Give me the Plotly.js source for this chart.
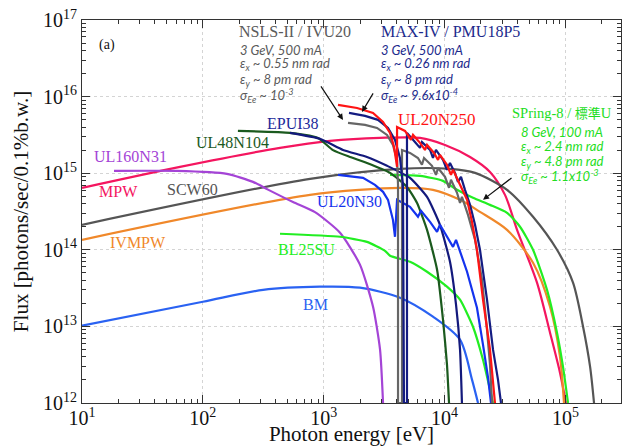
<!DOCTYPE html>
<html>
<head>
<meta charset="utf-8">
<script src="https://cdn.plot.ly/plotly-3.0.1.min.js"></script>
<style>html,body{margin:0;padding:0;background:#fff;}#chart{width:626px;height:446px;}</style>
</head>
<body>
<div id="chart"></div>
<script>
// ---- data (photon energy [eV], flux [photons/sec/0.1%b.w.]) ----
const mpwE = [10, 64.7, 435, 1127, 2924, 6266, 10090, 16250, 23770, 31620, 39800, 58200, 74600, 90200, 101100];
const mpwF = [6.44e14, 1.21e15, 2.14e15, 2.64e15, 2.89e15, 2.89e15, 2.34e15, 1.63e15, 1.04e15, 5.21e14, 1.82e14, 3.72e13, 8.28e12, 2.49e12, 1e12];

const scwE = [10, 771, 4276, 11090, 17870, 32890, 53950, 85200, 115600, 140000, 160000, 172500];
const scwF = [2.12e14, 8.44e14, 1.14e15, 1.14e15, 1.01e15, 6.07e14, 2.70e14, 1.0e14, 3.72e13, 9.9e12, 2.98e12, 1e12];

const ivmpwE = [10, 771, 4276, 8017, 13430, 19640, 32890, 53950, 74600, 90200, 97300];
const ivmpwF = [1.35e14, 5.21e14, 6.44e14, 6.07e14, 4.49e14, 3.13e14, 1.82e14, 6.78e13, 1.81e13, 4.03e12, 1e12];

const bmE = [10, 100, 315, 931, 1995, 4276, 8017, 13430, 16870, 18920];
const bmF = [1.02e13, 2.10e13, 3.0e13, 3.30e13, 3.2e13, 2.37e13, 1.34e13, 6.7e12, 2.02e12, 1e12];

const ul160E = [18.4, 61, 158, 260, 346, 557, 847, 1365, 1995, 2560, 2924, 3097];
const ul160F = [1.07e15, 1.07e15, 9.8e14, 7.7e14, 6.1e14, 4.2e14, 3.1e14, 1.67e14, 6.4e13, 1.8e13, 5.0e12, 1e12];

const ul48E = [195, 526, 897, 1194, 1652, 2280, 3540, 4890, 5910, 7160, 8670, 9710, 10470, 10890];
const ul48F = [3.56e15, 3.36e15, 2.89e15, 2.0e15, 1.63e15, 1.36e15, 1.01e15, 6.6e14, 4.1e14, 1.82e14, 5.5e13, 1.22e13, 3.2e12, 1e12];

const epuiE = [526, 931, 1445, 2280, 3342, 5176, 7161, 9162, 11090, 12440, 13430, 13930];
const epuiF = [3.36e15, 2.81e15, 2.01e15, 1.63e15, 1.25e15, 8.7e14, 4.91e14, 2.12e14, 6.98e13, 1.92e13, 4.97e12, 1e12];

const ul20n30E = [1313, 2115, 2655, 3097, 3404, 3741, 3890, 4045, 5176, 6026, 6383, 7586, 8665, 9162, 11750, 12440, 15350, 18540, 20800, 22900, 24220];
const ul20n30F = [9.5e14, 8.7e14, 7.05e14, 5.71e14, 4.49e14, 2.46e14, 1.48e14, 4.49e14, 3.64e14, 2.70e14, 3.23e14, 2.32e14, 1.72e14, 2.12e14, 1.09e14, 1.35e14, 5.17e13, 1.75e13, 5.77e12, 2.14e12, 1e12];

const bl25E = [435, 1365, 2280, 3215, 3540, 5176, 7161, 10470, 13430, 17190, 20800, 23770, 25180];
const bl25F = [1.62e14, 1.48e14, 1.27e14, 9.71e13, 8.36e13, 6.98e13, 5.17e13, 3.30e13, 2.23e13, 9.9e12, 3.67e12, 1.49e12, 1e12];

const sp8E = [3540, 6266, 9705, 12680, 17190, 23770, 32890, 42100, 53950, 70450, 85200, 95500, 105100];
const sp8F = [9.5e14, 9.23e14, 7.94e14, 6.07e14, 4.77e14, 3.86e14, 3.04e14, 2.0e14, 1.0e14, 3.0e13, 8.28e12, 2.98e12, 1e12];

const nslsE = [1589, 2198, 2761, 3342, 3741, 4045, 4121, 4121, 4446, 4446, 5176, 6026, 6501, 6761, 7870, 8492, 8831, 10090, 10890, 11300, 12680, 13430, 13930, 15630, 17870, 20420, 22450, 23770, 24720];
const nslsF = [4.54e15, 4.27e15, 3.90e15, 3.16e15, 2.34e15, 1.49e15, 7.05e14, 1e12, 1e12, 2.01e15, 1.84e15, 1.58e15, 1.29e15, 1.58e15, 1.25e15, 9.5e14, 1.17e15, 8.96e14, 6.44e14, 8.2e14, 5.55e14, 4.10e14, 4.91e14, 2.86e14, 1.35e14, 4.06e13, 9.05e12, 3.16e12, 1e12];

const maxivE = [1619, 2198, 2813, 3404, 3890, 4276, 4530, 4615, 4887, 4887, 5689, 6266, 6501, 7586, 8017, 8492, 9705, 10470, 11090, 12190, 12910, 13680, 14760, 16250, 17870, 19640, 22450, 25180, 27680, 29310];
const maxivF = [6.12e15, 5.60e15, 4.97e15, 3.90e15, 2.72e15, 1.58e15, 7.05e14, 1e12, 1e12, 3.36e15, 2.56e15, 2.14e15, 2.56e15, 2.01e15, 1.58e15, 2.01e15, 1.49e15, 1.11e15, 1.36e15, 1.01e15, 7.7e14, 8.96e14, 6.07e14, 3.86e14, 2.12e14, 1.0e14, 2.23e13, 4.97e12, 2.02e12, 1e12];

const ul20n250E = [1313, 1888, 2559, 3097, 3540, 3819, 4045, 4045, 4706, 5273, 5483, 6266, 6887, 7161, 8185, 8831, 9162, 10470, 11300, 11750, 13430, 15350, 16870, 18540, 20800, 23770, 26140];
const ul20n250F = [7.78e15, 7.11e15, 6.12e15, 4.68e15, 3.36e15, 2.21e15, 1.21e15, 4.02e15, 3.56e15, 2.72e15, 3.16e15, 2.49e15, 2.01e15, 2.34e15, 1.84e15, 1.49e15, 1.73e15, 1.29e15, 9.5e14, 1.11e15, 7.05e14, 4.49e14, 2.32e14, 1.0e14, 2.23e13, 4.97e12, 1e12];

// tick labels
const xTickVals = [10, 100, 1000, 10000, 100000];
const xTickText = ['10<sup>1</sup>', '10<sup>2</sup>', '10<sup>3</sup>', '10<sup>4</sup>', '10<sup>5</sup>'];
const yTickVals = [1e12, 1e13, 1e14, 1e15, 1e16, 1e17];
const yTickText = ['10<sup>12</sup>', '10<sup>13</sup>', '10<sup>14</sup>', '10<sup>15</sup>', '10<sup>16</sup>', '10<sup>17</sup>'];

const xTitle = 'Photon energy [eV]';
const yTitle = 'Flux [photons/sec/0.1%b.w.]';

// ---- traces ----
function tr(x, y, color, shape, sm) {
  const line = {color: color, width: 2.2, shape: shape || 'linear'};
  if (shape === 'spline') line.smoothing = sm || 1;
  return {x: x, y: y, type: 'scatter', mode: 'lines', line: line, hoverinfo: 'skip', showlegend: false};
}
const data = [
  tr(mpwE, mpwF, '#f4155f', 'spline', 0.8),
  tr(scwE, scwF, '#555555', 'spline', 0.8),
  tr(ivmpwE, ivmpwF, '#f0882a', 'spline', 0.8),
  tr(bmE, bmF, '#2a62f2', 'spline', 0.8),
  tr(ul160E, ul160F, '#a444d6', 'spline', 0.6),
  tr(bl25E, bl25F, '#22ee22', 'spline', 0.5),
  tr(sp8E, sp8F, '#22ee22', 'spline', 0.6),
  tr(ul48E, ul48F, '#1b5a1e', 'spline', 0.5),
  tr(epuiE, epuiF, '#13197c', 'spline', 0.5),
  tr(ul20n30E, ul20n30F, '#1433ee', 'linear'),
  tr(nslsE, nslsF, '#666666', 'linear'),
  tr(maxivE, maxivF, '#141c82', 'linear'),
  tr(ul20n250E, ul20n250F, '#ff1414', 'linear')
];

// ---- annotations ----
const serif = 'Liberation Serif, Times New Roman, serif';
const ital = 'Lato, Open Sans, sans-serif';
function lab(text, x, y, color, size, anchor, fam) {
  return {text: text, x: x, y: y, xref: 'paper', yref: 'paper', showarrow: false,
    xanchor: anchor || 'center', yanchor: 'middle',
    font: {family: fam || serif, size: size || 16, color: color}};
}
const nslsC = '#5a5a5a', maxC = '#1c2a8c', sp8C = '#22dd22';
const lineY = [0.9217, 0.8844, 0.8426, 0.8035];
const sp8Y = [0.7078, 0.6687, 0.6295, 0.5904];
const nslsLines = ['3 GeV, 500 mA', 'ε<sub>x</sub> ~ 0.55 nm rad', 'ε<sub>y</sub> ~ 8 pm rad', 'σ<sub>Ee</sub> ~ 10<sup>-3</sup>'];
const maxLines = ['3 GeV, 500 mA', 'ε<sub>x</sub> ~ 0.26 nm rad', 'ε<sub>y</sub> ~ 8 pm rad', 'σ<sub>Ee</sub> ~ 9.6x10<sup>-4</sup>'];
const sp8Lines = ['8 GeV, 100 mA', 'ε<sub>x</sub> ~ 2.4 nm rad', 'ε<sub>y</sub> ~ 4.8 pm rad', 'σ<sub>Ee</sub> ~ 1.1x10<sup>-3</sup>'];

const ann = [
  lab('(a)', 0.0464, 0.935, '#111', 14),
  lab('NSLS-II / IVU20', 0.2876, 0.9687, nslsC, 16, 'left'),
  lab('MAX-IV / PMU18P5', 0.551, 0.9687, maxC, 16, 'left'),
  lab('SPring-8 / <span style="font-size:13px">標準</span>U', 0.987, 0.7574, sp8C, 14.5, 'right', 'Liberation Serif, Noto Sans CJK JP, serif'),
  lab('UL20N250', 0.6586, 0.7391, '#ff1414', 17),
  lab('EPUI38', 0.3915, 0.7287, '#1c2a9a', 16),
  lab('UL48N104', 0.2783, 0.6791, '#1b5a1e', 16),
  lab('UL160N31', 0.0891, 0.6426, '#a444d6', 16),
  lab('MPW', 0.0686, 0.5513, '#f4155f', 16),
  lab('SCW60', 0.2041, 0.5566, '#555555', 16),
  lab('IVMPW', 0.1039, 0.4183, '#f0882a', 16),
  lab('UL20N30', 0.4954, 0.5254, '#1433ee', 16),
  lab('BL25SU', 0.4174, 0.4002, '#22ee22', 16),
  lab('BM', 0.4341, 0.2567, '#2a62f2', 16)
];
nslsLines.forEach((t, i) => ann.push(lab('<i>' + t + '</i>', 0.2894, lineY[i], nslsC, 13, 'left', ital)));
maxLines.forEach((t, i) => ann.push(lab('<i>' + t + '</i>', 0.551, lineY[i], maxC, 13, 'left', ital)));
sp8Lines.forEach((t, i) => ann.push(lab('<i>' + t + '</i>', 0.8108, sp8Y[i], sp8C, 13, 'left', ital)));
function arrow(x, y, ax, ay) {
  return {text: '', x: x, y: y, xref: 'paper', yref: 'paper', showarrow: true, ax: ax, ay: ay,
    arrowhead: 2, arrowsize: 1, arrowwidth: 1.2, arrowcolor: '#111'};
}
ann.push(arrow(0.4842, 0.7391, -23, -35));
ann.push(arrow(0.5195, 0.760, 12, -20));
ann.push(arrow(0.744, 0.5305, 30, -23));

const axisCommon = {
  type: 'log', tickmode: 'array',
  ticks: 'inside', ticklen: 8, tickwidth: 1, tickcolor: '#333',
  showline: true, linecolor: '#333', linewidth: 1, mirror: 'allticks',
  showgrid: true, gridcolor: '#d4d4d4', griddash: 'dot', gridwidth: 1,
  zeroline: false,
  tickfont: {family: serif, size: 20, color: '#111'},
  minor: {ticks: 'inside', ticklen: 4, tickcolor: '#333', showgrid: false, dtick: 'D1'}
};
const layout = {
  width: 626, height: 446,
  margin: {l: 82, r: 5, t: 20, b: 43},
  paper_bgcolor: '#fff', plot_bgcolor: '#fff',
  showlegend: false,
  xaxis: Object.assign({}, axisCommon, {range: [1, 5.46], tickvals: xTickVals, ticktext: xTickText,
    ticklabelstandoff: -3,
    title: {text: xTitle, font: {family: serif, size: 21, color: '#111'}, standoff: 0}}),
  yaxis: Object.assign({}, axisCommon, {range: [12, 17], tickvals: yTickVals, ticktext: yTickText,
    title: {text: yTitle, font: {family: serif, size: 21, color: '#111'}, standoff: 8}}),
  annotations: ann
};
Plotly.newPlot('chart', data, layout, {staticPlot: true, displayModeBar: false});
</script>
</body>
</html>
